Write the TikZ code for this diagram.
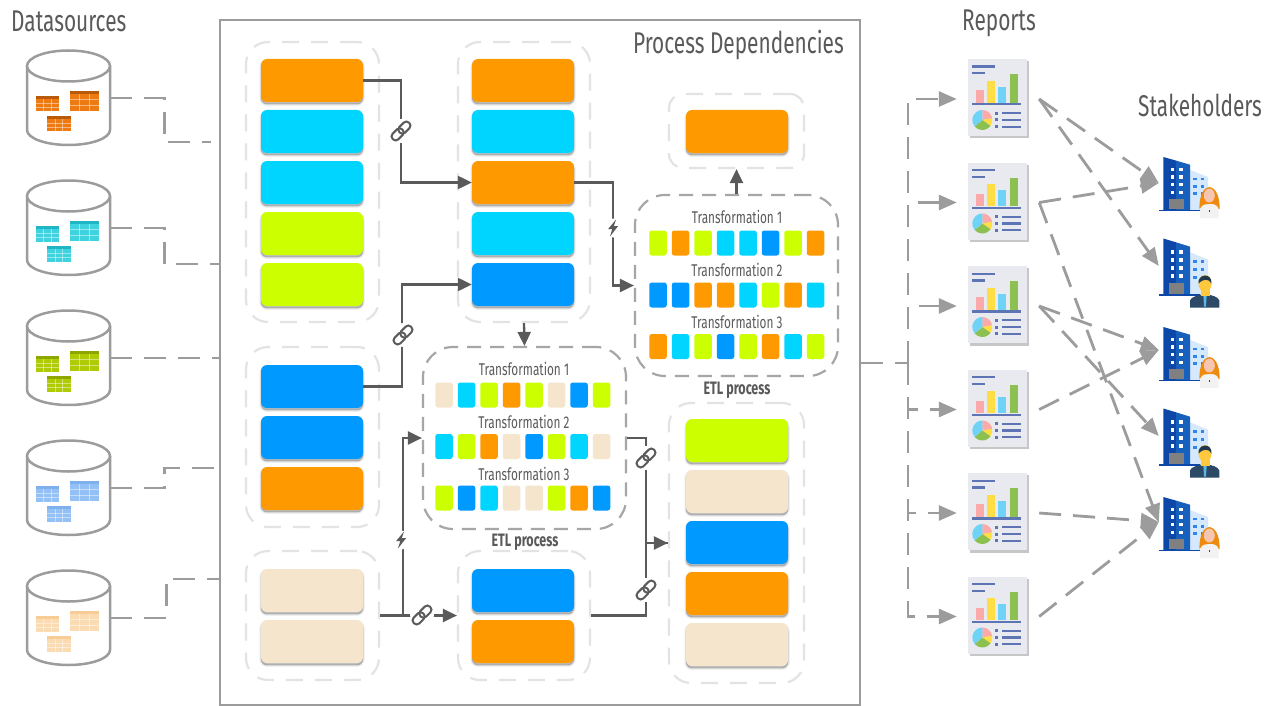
\documentclass[tikz,border=0pt]{standalone}
\usepackage{fontspec}
\setmainfont{Fira Sans}[FakeStretch=0.695]
\usetikzlibrary{arrows.meta,calc}
\definecolor{cO}{HTML}{FF9900}
\definecolor{cC}{HTML}{00D5FF}
\definecolor{cL}{HTML}{CCFF00}
\definecolor{cB}{HTML}{0099FF}
\definecolor{cT}{HTML}{F6E5CD}
\definecolor{ink}{HTML}{5A5A5A}
\definecolor{gline}{HTML}{9C9C9C}
\definecolor{rep}{HTML}{5E75B5}
\definecolor{bdark}{HTML}{0D47A8}
\definecolor{bmid}{HTML}{1760BC}
\tikzset{
 x=1pt,y=-1pt,
 softshadow/.style={
  preaction={fill=black,draw=black,opacity=.05,line width=3.5pt,transform canvas={yshift=-2.2pt}},
  preaction={fill=black,draw=black,opacity=.08,line width=1.8pt,transform canvas={yshift=-2.2pt}},
  preaction={fill=black,opacity=.12,transform canvas={yshift=-2.2pt}}},
 barbox/.style={rectangle,rounded corners=6pt,minimum width=102pt,minimum height=43pt,inner sep=0pt,fill=#1,softshadow},
 chip/.style={rectangle,rounded corners=2.5pt,minimum width=17.5pt,minimum height=25pt,inner sep=0pt,fill=#1},
 groupbox/.style={rectangle,draw=black!11,line width=2.2pt,dash pattern=on 17pt off 12pt,rounded corners=22pt,inner sep=0pt},
 etlbox/.style={rectangle,draw=black!35,line width=2.2pt,dash pattern=on 14pt off 9pt,rounded corners=30pt,inner sep=0pt},
 frame/.style={rectangle,draw=gline,line width=2.6pt,inner sep=0pt},
 title/.style={text=ink,font=\fontsize{30}{32}\selectfont,inner sep=0pt},
 tlabel/.style={text=ink,font=\fontsize{17}{19}\selectfont,inner sep=0pt},
 etllabel/.style={text=ink,font=\fontsize{18}{20}\selectfont\bfseries,inner sep=0pt},
 conn/.style={draw=ink,line width=2.3pt},
 connar/.style={conn,-{Triangle[length=14pt,width=13pt]}},
 gdash/.style={draw=gline,line width=2.8pt,dash pattern=on 22pt off 12pt},
 gar/.style={gdash,-{Triangle[length=18pt,width=15pt]}},
 ghost/.style={rectangle,inner sep=0pt},
 linkbg/.style={circle,fill=white,minimum size=24pt,inner sep=0pt},
 boltbg/.style={circle,fill=white,minimum size=19pt,inner sep=0pt},
}
\newcommand\barnode[4]{\node[barbox=#4] (#1) at (#2,#3) {};}
\newcommand\chiprow[4]{% prefix, x0, y, colours
 \foreach \cc [count=\ii from 0] in {#4}{
  \node[chip=\cc] (#1-\ii) at ({#2+22.5*\ii},#3) {};}}
\newcommand\linkicon[3]{\node[linkbg] (#1) at (#2,#3) {};
 \begin{scope}[shift={(#2,#3)},rotate=45]
  \draw[ink,line width=2pt,rounded corners=3.6pt] (-11.5,-4) rectangle (2,4);
  \draw[ink,line width=2pt,rounded corners=3.6pt] (-2,-4) rectangle (11.5,4);
 \end{scope}}
\newcommand\bolticon[3]{\node[boltbg] (#1) at (#2,#3) {};
 \fill[ink,shift={(#2,#3)}] (3,-8.5) -- (-5,1.2) -- (-0.8,1.2) -- (-3,8.5) -- (5,-1.8) -- (0.8,-1.8) -- cycle;}
\newcommand\cylinder[4]{% name, top y, table colour, header colour
 \node[ghost,minimum width=83pt,minimum height=96pt] (#1) at (68.5,#2+48) {};
 \begin{scope}[shift={(0,#2)}]
  \draw[gline,line width=2.5pt,fill=white] (27,16) -- (27,80) arc[x radius=41.5,y radius=15,start angle=180,end angle=0] -- (110,16);
  \draw[gline,line width=2.5pt,fill=white] (68.5,16) ellipse[x radius=41.5,y radius=15.5];
  \minitable{35.5}{46}{23.5}{15.5}{#3}{#4}{3}
  \minitable{70}{41}{29}{20}{#3}{#4}{3}
  \minitable{47}{66}{23.5}{15.5}{#3}{#4}{3}
 \end{scope}}
\newcommand\minitable[7]{%
 \fill[#5] (#1,#2) rectangle ++(#3,#4);
 \fill[#6] (#1,#2) rectangle ++(#3,3);
 \foreach \k in {1,2}{\draw[white,opacity=.45,line width=.5pt] ({#1+#3*\k/3},{#2+3}) -- ++(0,{#4-3});}
 \foreach \k in {1,2}{\draw[white,opacity=.45,line width=.5pt] (#1,{#2+3+(#4-3)*\k/3}) -- ++(#3,0);}}
\newcommand\reportdoc[3]{%
 \node[ghost,minimum width=82pt,minimum height=78pt] (#1) at (#2,#3) {};
 \begin{scope}[shift={(#2,#3)}]
  \fill[black!22] (-28,-38) rectangle (30.5,39.5);
  \fill[HTML=E8EAF0] (-29.7,-39.7) rectangle (28.7,37);
  \draw[rep,line width=2.4pt] (-25.7,-32.3) -- (-3,-32.3);
  \draw[rep,line width=2.4pt] (-25.7,-25.7) -- (-13,-25.7);
  \fill[HTML=FBA9A9] (-22,-9) rectangle (-14,3.7);
  \fill[HTML=FFDD44] (-11,-18.3) rectangle (-3,3.7);
  \fill[HTML=6FD3F7] (0.3,-12.3) rectangle (8.3,3.7);
  \fill[HTML=8CC152] (11.7,-25) rectangle (19.7,3.7);
  \draw[rep,line width=2.4pt] (-25.7,5.3) -- (23,5.3);
  \begin{scope}[shift={(-15.7,21)}]
   \fill[HTML=FBA9A9] (0,0) -- (-90:10) arc[start angle=-90,end angle=-10,radius=10] -- cycle;
   \fill[HTML=FFDD44] (0,0) -- (-10:10) arc[start angle=-10,end angle=35,radius=10] -- cycle;
   \fill[HTML=8CC152] (0,0) -- (35:10) arc[start angle=35,end angle=140,radius=10] -- cycle;
   \fill[HTML=6FD3F7] (0,0) -- (140:10) arc[start angle=140,end angle=270,radius=10] -- cycle;
  \end{scope}
  \foreach \yy in {14.3,21,27.7}{
   \fill[rep] (-2.8,\yy-1.5) rectangle (0.2,\yy+1.5);
   \draw[rep,line width=2.2pt] (4.3,\yy) -- (23,\yy);}
 \end{scope}}
\newcommand\buildingicon[3]{% x0 top yscale
 \begin{scope}[shift={(#1,#2)},yscale=#3]
  \fill[HTML=D6E8FB] (30,13) -- (48,20) -- (48,53) -- (30,53) -- cycle;
  \foreach \yy in {20.5,27.7,35}{\foreach \xx in {33.3,41}{\fill[HTML=2E86F0] (\xx,\yy) rectangle ++(3.4,2.8);}}
  \fill[bdark] (3.3,0) -- (16,3.6) -- (16,53) -- (3.3,53) -- cycle;
  \fill[bmid] (16,3.6) -- (30,7.7) -- (30,53) -- (16,53) -- cycle;
  \foreach \yy in {11,18.4,26,33.7}{\foreach \xx in {10.7,19.3}{\fill[white] (\xx,\yy) rectangle ++(3.4,3.4);}}
  \fill[black!50] (9.3,42) rectangle (24.3,52);
  \draw[bdark,line width=1.5pt] (-1,53.5) -- (40,53.5);
 \end{scope}}
\newcommand\womanicon[2]{%
 \begin{scope}[shift={(#1,#2)}]
  \fill[HTML=EE8A0E] (49.3,30) .. controls (41,31) and (39,45) .. (39.5,52) -- (59.5,52) .. controls (60,45) and (58,31) .. (49.3,30) -- cycle;
  \fill[HTML=F6C6B0] (49.3,38.5) ellipse[x radius=5.5,y radius=7];
  \fill[HTML=F2F2F2] (40,52) .. controls (42,47) and (46,47) .. (49.3,47) .. controls (53,47) and (57,47) .. (58.7,52) -- (58.7,61) -- (40,61) -- cycle;
  \fill[bdark] (48.5,53) rectangle (50.1,54.6);
 \end{scope}}
\newcommand\manicon[2]{%
 \begin{scope}[shift={(#1,#2)}]
  \fill[HTML=2C4A66] (30,69) -- (30,62) .. controls (31,58) and (38,57) .. (45,55) .. controls (52,57) and (58,58) .. (59.3,62) -- (59.3,69) -- cycle;
  \fill[HTML=58B8E8] (43.3,56) -- (46.7,56) -- (46,68) -- (44,68) -- cycle;
  \fill[HTML=FFC83D] (40.5,50) rectangle (49.5,57);
  \fill[HTML=FFC83D] (45,45) ellipse[x radius=6.5,y radius=8.5];
  \fill[HTML=22384F] (38.5,45) .. controls (37,36) and (52,33) .. (51.5,45) .. controls (49,40) and (43,40) .. (38.5,45) -- cycle;
 \end{scope}}
\tikzset{HTML/.code={\definecolor{tmpc}{HTML}{#1}\tikzset{color=tmpc}}}
\begin{document}
\begin{tikzpicture}
\useasboundingbox (0,0) rectangle (1271,706);
\fill[white] (0,0) rectangle (1271,706);
% titles
\node[title,anchor=base west] (tD) at (11,32) {Datasources};
\node[title,anchor=base west] (tR) at (962,31) {Reports};
\node[title,anchor=base west] (tS) at (1138,117) {Stakeholders};
% frame
\node[frame,minimum width=640pt,minimum height=685pt] (P) at (540,362.5) {};
\node[title,anchor=base east] (tP) at (844,54) {Process Dependencies};
% cylinders
\definecolor{tO}{HTML}{EE7A12}\definecolor{hO}{HTML}{B85A08}
\definecolor{tC}{HTML}{3FD3E0}\definecolor{hC}{HTML}{1FB5C4}
\definecolor{tL}{HTML}{AFCB05}\definecolor{hL}{HTML}{8DA600}
\definecolor{tB}{HTML}{93C0F5}\definecolor{hB}{HTML}{7FB0EE}
\definecolor{tT}{HTML}{FBDBB2}\definecolor{hT}{HTML}{F7CC96}
\cylinder{C1}{50}{tO}{hO}
\cylinder{C2}{180}{tC}{hC}
\cylinder{C3}{310}{tL}{hL}
\cylinder{C4}{440}{tB}{hB}
\cylinder{C5}{570}{tT}{hT}
\coordinate (e1) at (211,142);
\coordinate (e2) at (220,264);
\coordinate (e3) at (220,358);
\coordinate (e4) at (220,468);
\coordinate (e5) at (220,579);
\draw[gdash] (C1.east) -- ++(54,0) |- (e1);
\draw[gdash] (C2.east) -- ++(54,0) |- (e2);
\draw[gdash] (C3.east) -- (e3);
\draw[gdash] (C4.east) -- ++(54,0) |- (e4);
\draw[gdash] (C5.east) -- ++(56,0) |- (e5);
% groups
\node[groupbox,minimum width=133pt,minimum height=280pt] (G1) at (312.5,182) {};
\node[groupbox,minimum width=132pt,minimum height=280pt] (G2) at (524,182) {};
\node[groupbox,minimum width=135pt,minimum height=74pt,rounded corners=14pt] (G3) at (736.5,131) {};
\node[groupbox,minimum width=133pt,minimum height=180pt] (G4) at (312.5,437) {};
\node[groupbox,minimum width=133pt,minimum height=129pt] (G5) at (312.5,615.5) {};
\node[groupbox,minimum width=132pt,minimum height=129pt] (G6) at (524,615.5) {};
\node[groupbox,minimum width=135pt,minimum height=280pt] (G7) at (736.5,543) {};
% bars
\barnode{a1}{312}{80.5}{cO}\barnode{a2}{312}{131.5}{cC}\barnode{a3}{312}{182.5}{cC}\barnode{a4}{312}{233.5}{cL}\barnode{a5}{312}{284.5}{cL}
\barnode{b1}{523}{80.5}{cO}\barnode{b2}{523}{131.5}{cC}\barnode{b3}{523}{182.5}{cO}\barnode{b4}{523}{233.5}{cC}\barnode{b5}{523}{284.5}{cB}
\barnode{c1}{737}{131.5}{cO}
\barnode{d1}{312}{386.5}{cB}\barnode{d2}{312}{437.5}{cB}\barnode{d3}{312}{488.5}{cO}
\barnode{f1}{312}{590.5}{cT}\barnode{f2}{312}{641.5}{cT}
\barnode{g1}{523}{590.5}{cB}\barnode{g2}{523}{641.5}{cO}
\barnode{h1}{737}{440.5}{cL}\barnode{h2}{737}{491.5}{cT}\barnode{h3}{737}{542.5}{cB}\barnode{h4}{737}{593.5}{cO}\barnode{h5}{737}{644.5}{cT}
% ETL boxes
\node[etlbox,minimum width=203pt,minimum height=182pt] (E1) at (524.5,438) {};
\node[etlbox,minimum width=203pt,minimum height=181pt] (E2) at (736.5,285.5) {};
\node[tlabel,anchor=base] (E1t1) at (524,375.5) {Transformation 1};
\node[tlabel,anchor=base] (E1t2) at (524,428.5) {Transformation 2};
\node[tlabel,anchor=base] (E1t3) at (524,480) {Transformation 3};
\chiprow{E1a}{444}{395}{cT,cC,cL,cO,cL,cT,cB,cL}
\chiprow{E1b}{444}{446.5}{cC,cL,cO,cT,cB,cL,cC,cT}
\chiprow{E1c}{444}{498}{cL,cB,cC,cT,cT,cL,cO,cB}
\node[etllabel,anchor=base] (E1l) at (525,546) {ETL process};
\node[tlabel,anchor=base] (E2t1) at (737,223) {Transformation 1};
\node[tlabel,anchor=base] (E2t2) at (737,276) {Transformation 2};
\node[tlabel,anchor=base] (E2t3) at (737,328) {Transformation 3};
\chiprow{E2a}{658}{243}{cL,cO,cL,cC,cC,cB,cL,cO}
\chiprow{E2b}{658}{295}{cB,cB,cO,cO,cC,cL,cO,cC}
\chiprow{E2c}{658}{346.5}{cO,cC,cL,cB,cL,cO,cC,cL}
\node[etllabel,anchor=base] (E2l) at (737,394) {ETL process};
% connectors
\draw[connar] (a1.east) -- ++(38,0) |- (b3.west);
\draw[connar] (d1.east) -- ++(39,0) |- (b5.west);
\draw[connar] (b3.east) -- ++(39,0) |- (E2.west);
\draw[connar] (G2.south) -- (E1.north);
\draw[connar] (E2.north) -- (G3.south);
\draw[connar] (G5.east) -- ++(23,0) |- (E1.west);
\draw[connar] (G5.east) -- (G6.west);
\draw[connar] (E1.east) -- ++(19,0) |- (G7.west);
\draw[conn] (G6.east) -- ++(55,0) |- (G7.west);
\linkicon{l1}{401}{131}
\linkicon{l2}{403}{335}
\linkicon{l3}{422}{615}
\linkicon{l4}{646}{458}
\linkicon{l5}{646}{590}
\bolticon{z1}{613}{228}
\bolticon{z2}{401}{540}
% reports
\reportdoc{R1}{998}{99}
\reportdoc{R2}{998}{202.5}
\reportdoc{R3}{998}{306}
\reportdoc{R4}{998}{409.5}
\reportdoc{R5}{998}{513}
\reportdoc{R6}{998}{616.5}
% stakeholders
\buildingicon{1160}{157}{1}\womanicon{1160}{157}
\buildingicon{1160}{238.5}{1.06}\manicon{1160}{238.5}
\buildingicon{1160}{327}{1}\womanicon{1160}{327}
\buildingicon{1160}{408.5}{1.06}\manicon{1160}{408.5}
\buildingicon{1160}{497}{1}\womanicon{1160}{497}
\node[ghost,minimum width=62pt,minimum height=60pt] (S1) at (1190,183) {};
\node[ghost,minimum width=62pt,minimum height=60pt] (S2) at (1190,266) {};
\node[ghost,minimum width=62pt,minimum height=60pt] (S3) at (1190,350) {};
\node[ghost,minimum width=62pt,minimum height=60pt] (S4) at (1190,436) {};
\node[ghost,minimum width=62pt,minimum height=60pt] (S5) at (1190,522) {};
% bus
\coordinate (bus0) at (861,363);
\coordinate (bus1) at (908,363);
\draw[gdash] (bus0) -- (bus1);
\foreach \r in {R1,R2,R3,R4,R5,R6}{\draw[gar] (bus1) |- (\r.west);}
% report to stakeholder
\draw[gar] (R1.east) -- (S1.west);
\draw[gar] (R1.east) -- (S2.west);
\draw[gar] (R2.east) -- (S1.west);
\draw[gar] (R2.east) -- (S5.west);
\draw[gar] (R3.east) -- (S3.west);
\draw[gar] (R3.east) -- (S4.west);
\draw[gar] (R4.east) -- (S3.west);
\draw[gar] (R5.east) -- (S5.west);
\draw[gar] (R6.east) -- (S5.west);
\end{tikzpicture}
\end{document}
